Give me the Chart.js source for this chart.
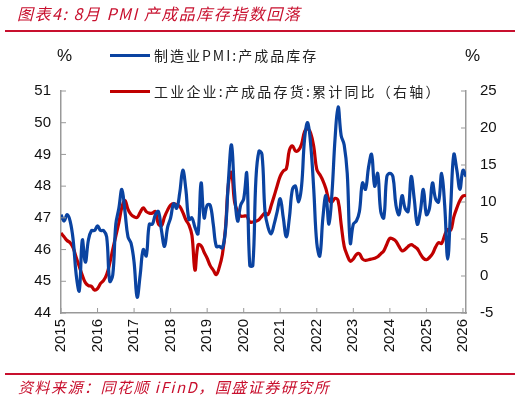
<!DOCTYPE html>
<html><head><meta charset="utf-8">
<script src="https://cdn.jsdelivr.net/npm/chart.js@4/dist/chart.umd.min.js"></script>
<style>
body{margin:0;width:526px;height:400px;background:#fff;position:relative;overflow:hidden;font-family:"Liberation Sans","Noto Sans CJK SC",sans-serif}
#c{position:absolute;left:0;top:0}
.t{position:absolute;white-space:nowrap}
</style></head><body>
<canvas id="c" width="526" height="400"></canvas>
<div class="t" style="left:17px;top:1px;color:#c8102e;font-style:italic;font-size:16px;letter-spacing:1.5px;font-family:'Noto Sans CJK SC'">图表4: 8月 PMI 产成品库存指数回落</div>
<div style="position:absolute;left:5px;top:30px;width:510px;height:2px;background:#c8102e"></div>
<div class="t" style="left:57px;top:46px;font-size:17px;color:#111">%</div>
<div class="t" style="left:465px;top:46px;font-size:17px;color:#111">%</div>
<div style="position:absolute;left:110px;top:54px;width:40px;height:3px;background:#0a43a1"></div>
<div class="t" style="left:154px;top:45px;font-size:14px;color:#222;font-family:'Noto Sans CJK SC';letter-spacing:2px">制造业PMI:产成品库存</div>
<div style="position:absolute;left:110px;top:90px;width:40px;height:3px;background:#c00000"></div>
<div class="t" style="left:154px;top:81px;font-size:14px;color:#222;font-family:'Noto Sans CJK SC';letter-spacing:2.2px">工业企业:产成品存货:累计同比（右轴）</div>
<div style="position:absolute;left:5px;top:373px;width:510px;height:2px;background:#c8102e"></div>
<div class="t" style="left:18px;top:376px;color:#c8102e;font-style:italic;font-size:15px;letter-spacing:1.5px;font-family:'Noto Sans CJK SC'">资料来源：同花顺 iFinD，国盛证券研究所</div>
<script>
const months = Array.from({length:134},(_,i)=>i); // month index from Jan 2015
const yearLabels = ['2015','2016','2017','2018','2019','2020','2021','2022','2023','2024','2025','2026'];
const pmiInventory = [47.1,46.9,47.1,46.9,46.3,45.2,44.7,46.3,45.6,46.3,46.6,46.6,
46.75,46.6,46.6,46.4,45.0,45.2,46.8,47.3,47.9,47.2,46.4,46.2,
45.6,44.5,45.2,46.0,45.8,46.8,46.8,47.1,47.2,46.6,46.1,46.7,
47.0,47.45,47.3,47.8,48.5,47.9,46.95,47.0,46.7,46.5,48.1,47.0,
47.4,47.4,46.8,46.1,46.1,46.05,46.6,48.2,49.3,47.8,46.9,47.4,
47.6,48.4,45.5,45.5,48.2,49.1,49.0,47.2,46.7,46.5,46.8,47.2,
47.6,47.0,46.4,47.0,47.9,48.0,47.5,48.0,49.5,50.0,49.3,47.9,
46.2,45.8,47.0,47.7,46.8,47.8,49.5,50.5,49.6,49.3,48.4,46.2,
46.8,46.9,47.2,48.1,47.9,48.6,49.0,48.0,48.4,47.2,47.0,48.3,
48.4,48.3,47.4,47.1,47.7,47.3,47.2,48.3,47.6,46.8,47.2,47.9,
47.1,47.3,48.1,47.6,47.5,48.4,47.4,45.7,47.4,49.0,48.5,47.9,
48.5,48.3];
const inventoryYoY = [5.8,5.3,4.8,4.5,3.8,2.5,1.3,0.1,-0.9,-1.3,-1.4,-1.9,
-1.7,-1.0,-0.6,0.2,1.7,3.6,5.4,7.2,9.3,10.2,9.0,8.3,
8.0,7.9,8.6,9.2,8.7,8.5,8.5,8.7,7.0,6.8,8.0,8.9,
9.6,9.8,9.6,9.4,8.6,7.6,6.9,5.5,0.8,4.2,4.1,3.2,
2.4,1.4,0.8,0.2,1.2,2.9,6.4,12.5,14.0,10.0,8.7,8.1,
8.1,8.1,7.3,7.3,7.4,7.6,8.1,8.5,8.3,9.5,10.8,12.2,
13.5,14.2,14.5,17.0,17.6,16.9,17.0,17.8,19.5,19.9,19.3,17.5,
14.4,13.7,12.9,11.8,10.3,10.0,10.5,10.2,7.0,4.0,2.8,2.0,
2.3,2.9,3.0,2.3,2.1,2.2,2.3,2.4,2.6,3.0,3.4,4.3,
5.1,5.0,4.7,4.0,3.4,3.6,4.0,4.25,4.0,3.7,3.0,2.4,
2.2,2.5,3.0,3.9,4.5,4.4,5.5,6.3,6.2,8.0,9.2,10.2,
10.8,10.9];
const leftTicks=[44,45,46,47,48,49,50,51];
const rightTicks=[-5,0,5,10,15,20,25];
const pts=(arr)=>arr.map((v,i)=>({x:months[i],y:v}));
const tickFont={family:'Liberation Sans',size:15};
new Chart(document.getElementById('c'),{
type:'line',
data:{datasets:[
{data:pts(pmiInventory),yAxisID:'y',borderColor:'#0a43a1',borderWidth:3.2,pointRadius:0,tension:0.4},
{data:pts(inventoryYoY),yAxisID:'y1',borderColor:'#c00000',borderWidth:3.2,pointRadius:0,tension:0.4}
]},
options:{responsive:false,animation:false,
layout:{padding:{top:91,left:0,right:0,bottom:0}},
plugins:{legend:{display:false},tooltip:{enabled:false}},
scales:{
x:{type:'linear',min:0,max:133,afterFit(s){s.height=87;},
 afterBuildTicks(s){s.ticks=yearLabels.map((_,i)=>({value:i*12}));},
 grid:{display:false,drawTicks:false},border:{color:'#999',width:1.5},
 ticks:{color:'#111',font:tickFont,maxRotation:90,minRotation:90,padding:6,callback:(v)=>yearLabels[v/12]}},
y:{position:'left',min:44,max:51,afterFit(s){s.width=61;},
 afterBuildTicks(s){s.ticks=leftTicks.map(v=>({value:v}));},
 grid:{display:false,drawTicks:false},border:{color:'#999',width:1.5},
 ticks:{color:'#111',font:tickFont,padding:10}},
y1:{position:'right',min:-5,max:25,afterFit(s){s.width=60;},
 afterBuildTicks(s){s.ticks=rightTicks.map(v=>({value:v}));},
 grid:{display:false,drawTicks:false},border:{color:'#999',width:1.5},
 ticks:{color:'#111',font:tickFont,padding:14}}
}},
plugins:[{id:'inTicks',afterDraw(c){const x=c.ctx,a=c.chartArea;x.save();x.strokeStyle='#999';x.lineWidth=1;
 const sx=c.scales.x,sy=c.scales.y,sy1=c.scales.y1;x.beginPath();
 yearLabels.forEach((_,i)=>{const p=sx.getPixelForValue(i*12);x.moveTo(p,a.bottom);x.lineTo(p,a.bottom-5);});
 leftTicks.forEach(v=>{const p=sy.getPixelForValue(v);x.moveTo(a.left,p);x.lineTo(a.left+5,p);});
 rightTicks.forEach(v=>{const p=sy1.getPixelForValue(v);x.moveTo(a.right,p);x.lineTo(a.right-5,p);});
 x.stroke();x.restore();}}]
});
</script></body></html>
